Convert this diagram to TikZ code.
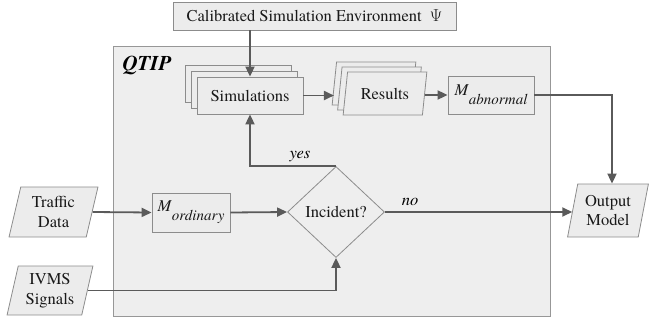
\documentclass[tikz,border=0pt]{standalone}
\usepackage{fontspec}
\setmainfont{texgyretermes}[Extension=.otf, UprightFont=*-regular, BoldFont=*-bold, ItalicFont=*-italic, BoldItalicFont=*-bolditalic]
\usetikzlibrary{shapes.geometric,arrows.meta}
\definecolor{boxfill}{HTML}{ECECEC}
\definecolor{qfill}{HTML}{EEEEEE}
\definecolor{bord}{HTML}{8C8C8C}
\definecolor{arr}{HTML}{5A5A5A}
\newcommand\mwithsub[1]{\textit{M}\raisebox{-9pt}{\fontsize{15}{15}\selectfont\itshape #1}}
\begin{document}
\begin{tikzpicture}[x=1pt,y=-1pt,
  font=\fontsize{16.5}{19.5}\selectfont,
  box/.style={draw=bord, fill=boxfill, line width=0.8pt, inner sep=0pt, text=black!90},
  para/.style={box, trapezium, trapezium left angle=76, trapezium right angle=104,
               trapezium stretches=true, align=center},
  flow/.style={draw=arr, line width=1.8pt, -{Triangle[length=10pt,width=9pt]}},
  lbl/.style={font=\fontsize{16.5}{19.5}\selectfont\itshape, inner sep=0pt}]
\useasboundingbox (0,0) rectangle (649,322);

% outer QTIP box
\node[draw=bord!90, fill=qfill, line width=0.8pt, minimum width=437pt, minimum height=270pt, inner sep=0pt] (qtip) at (331.5,181) {};
\node[font=\fontsize{21}{21}\selectfont\bfseries\itshape, inner sep=0pt] (qlabel) at (147,65) {QTIP};

% top box
\node[box, minimum width=283pt, minimum height=28pt] (cal) at (314.5,16) {Calibrated Simulation Environment\hspace{0.5em}$\Psi$};

% simulations stack
\node[box, minimum width=106pt, minimum height=37pt] (simC) at (238,83.5) {};
\node[box, minimum width=106pt, minimum height=37pt] (simB) at (244,89.5) {};
\node[box, minimum width=106pt, minimum height=37pt] (sim) at (250,95.5) {Simulations};

% results stack
\node[para, minimum width=84pt, minimum height=43pt] (resC) at (374,83.5) {\phantom{Results}};
\node[para, minimum width=84pt, minimum height=43pt] (resB) at (379.5,88.5) {\phantom{Results}};
\node[para, minimum width=84pt, minimum height=43pt] (res) at (385,93.5) {Results};

% models
\node[box, minimum width=86pt, minimum height=38pt] (mab) at (491,95) {\mwithsub{abnormal}};
\node[box, minimum width=78pt, minimum height=39pt] (mord) at (191,212.5) {\mwithsub{ordinary}};

% decision
\node[diamond, draw=bord, fill=qfill, line width=0.8pt, minimum width=97pt, minimum height=91pt, inner sep=0pt, text=black!90] (inc) at (336,212) {Incident?};

% inputs / output
\node[para, minimum width=89pt, minimum height=50pt] (traffic) at (53.5,212) {Traffic\\Data};
\node[para, minimum width=86pt, minimum height=49pt] (ivms) at (50,290.5) {IVMS\\Signals};
\node[para, minimum width=81pt, minimum height=53pt] (out) at (608,210.5) {Output\\Model};

% connectors
\draw[flow] (sim.north |- cal.south) -- (sim.north);
\draw[flow] (sim.east) -- (sim.east -| resC.west);
\draw[flow] (res.east |- mab.west) -- (mab.west);
\draw[flow] (mab.east) -| ([xshift=4pt]out.north);
\draw[flow] (traffic.east) -- (mord.west);
\draw[flow] (mord.east) -- (inc.west);
\draw[flow] (inc.east) -- (inc.east -| out.west);
\draw[flow] (inc.north) -| (sim.south);
\draw[flow] (ivms.east) -| (inc.south);

\node[lbl] (yes) at (300,157) {yes};
\node[lbl] (no) at (410,202) {no};
\end{tikzpicture}
\end{document}
